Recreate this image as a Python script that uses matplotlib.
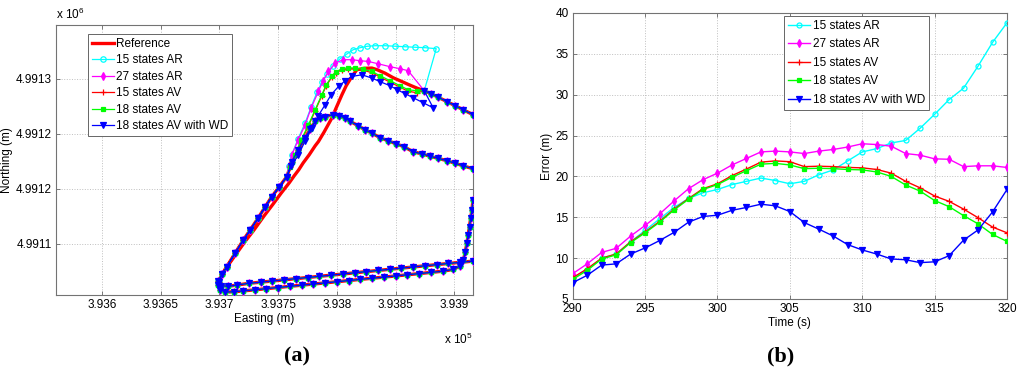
import numpy as np
import matplotlib
matplotlib.use('Agg')
import matplotlib.pyplot as plt

plt.rcParams['font.family'] = ['Liberation Sans', 'DejaVu Sans']
plt.rcParams['mathtext.fontset'] = 'custom'
plt.rcParams['mathtext.rm'] = 'Liberation Sans'

# ---------------- (b) error data ----------------
time_s = list(range(290, 321))
err_15AR = [7.6, 8.6, 10.0, 10.5, 12.0, 13.4, 14.8, 16.2, 17.3, 18.0, 18.4, 19.0, 19.4, 19.8, 19.5, 19.1,
            19.4, 20.2, 20.8, 21.9, 23.0, 23.4, 24.1, 24.4, 25.9, 27.6, 29.4, 30.8, 33.5, 36.4, 38.8]
err_27AR = [8.1, 9.3, 10.7, 11.2, 12.7, 14.0, 15.4, 17.0, 18.5, 19.6, 20.4, 21.4, 22.2, 23.0, 23.1, 23.0,
            22.8, 23.1, 23.3, 23.6, 24.0, 23.9, 23.7, 22.8, 22.6, 22.15, 22.1, 21.2, 21.3, 21.3, 21.1]
err_15AV = [7.6, 8.7, 10.0, 10.5, 12.0, 13.2, 14.5, 16.0, 17.3, 18.5, 19.1, 20.1, 20.9, 21.75, 21.9, 21.8,
            21.2, 21.25, 21.2, 21.1, 21.05, 20.85, 20.4, 19.4, 18.6, 17.6, 16.95, 16.0, 14.95, 13.8, 13.1]
err_18AV = [7.4, 8.5, 9.9, 10.4, 11.9, 13.1, 14.4, 15.9, 17.2, 18.4, 19.0, 19.9, 20.7, 21.5, 21.6, 21.4,
            20.95, 21.0, 20.95, 20.85, 20.8, 20.55, 20.0, 18.95, 18.2, 17.05, 16.3, 15.2, 14.2, 12.9, 12.05]
err_18AVWD = [7.0, 7.9, 9.15, 9.3, 10.5, 11.25, 12.15, 13.15, 14.4, 15.1, 15.25, 15.85, 16.2, 16.6, 16.4, 15.7,
              14.35, 13.55, 12.7, 11.65, 11.0, 10.5, 9.9, 9.8, 9.45, 9.55, 10.3, 12.2, 13.45, 15.65, 18.4]

# ---------------- (a) trajectory data (Easting, Northing in m) ----------------
# lap A: upper bottom line (from right edge to bottom-left corner)
lapA_bottom_e = [393916, 393905, 393895, 393885, 393875, 393865, 393855, 393845, 393835, 393825, 393815,
                 393805, 393795, 393785, 393775, 393765, 393755, 393745, 393735, 393725, 393715, 393707,
                 393701.5, 393699.2]
lapA_bottom_n = [4991134.4, 4991133.3, 4991132.3, 4991131.2, 4991130.1, 4991129.1, 4991128.0, 4991127.0,
                 4991125.9, 4991124.8, 4991123.8, 4991122.7, 4991121.6, 4991120.6, 4991119.5, 4991118.4,
                 4991117.4, 4991116.3, 4991115.3, 4991114.2, 4991112.6, 4991111.4, 4991112.2, 4991115.7]
# shared diagonal
diag_e = [393702.3, 393706.3, 393713.4, 393720.4, 393726.2, 393733.0, 393738.9, 393744.6, 393750.9, 393757.4]
diag_n = [4991122.7, 4991129.4, 4991141.8, 4991153.6, 4991162.7, 4991173.6, 4991183.6, 4991193.0,
          4991201.8, 4991211.2]
# lap A: lower peak and descent to right edge
lapA_top_e = [393761.7, 393767.0, 393773.0, 393777.3, 393781.5, 393785.8, 393790.0, 393797.1, 393802.0,
              393807.1, 393811.3, 393818.1, 393824.1, 393829.8, 393836.9, 393843.7, 393850.5, 393857.3,
              393865.0, 393872.7, 393879.5, 393886.3, 393894.0, 393900.8, 393907.6, 393916.1]
lapA_top_n = [4991224.8, 4991235.5, 4991246.4, 4991254.5, 4991261.2, 4991264.1, 4991265.7, 4991267.3,
              4991266.4, 4991264.3, 4991261.4, 4991257.3, 4991253.6, 4991250.6, 4991246.4, 4991243.6,
              4991240.9, 4991238.2, 4991233.6, 4991231.8, 4991229.5, 4991227.7, 4991225.5, 4991223.2,
              4991220.9, 4991218.2]
# lap B: right vertical and lower bottom line
lapB_bottom_e = [393915.9, 393915.0, 393914.0, 393913.0, 393911.8, 393910.7, 393909.3, 393907.8, 393905.0,
                 393899.0, 393890, 393880, 393870, 393860, 393850, 393840, 393830, 393820, 393810, 393800,
                 393790, 393780, 393770, 393760, 393750, 393740, 393730, 393720, 393712, 393705, 393700.5,
                 393698.6, 393699.1]
lapB_bottom_n = [4991190.0, 4991180.9, 4991173.6, 4991165.7, 4991158.2, 4991150.6, 4991142.7, 4991135.5,
                 4991130.0, 4991126.8, 4991125.2, 4991124.1, 4991123.0, 4991122.0, 4991120.9, 4991119.9,
                 4991118.8, 4991117.8, 4991116.7, 4991115.7, 4991114.6, 4991113.6, 4991112.5, 4991111.5,
                 4991110.4, 4991109.4, 4991108.3, 4991107.3, 4991106.5, 4991106.3, 4991108.6, 4991112.5,
                 4991116.5]
# lap B: common end after the junction
end_e = [393880.3, 393886.3, 393894.0, 393900.8, 393907.6, 393916.1]
end_n = [4991286.4, 4991283.2, 4991279.1, 4991275.5, 4991271.8, 4991267.3]

# lap B: outage segment of each solution
ref_e = [393706.3, 393722.5, 393728.8, 393738.0, 393745.8, 393752.5, 393759.4, 393763.6, 393767.5, 393771.3,
         393776.4, 393781.5, 393784.3, 393789.2, 393795.7, 393799.4, 393804.3, 393807.9, 393812.8, 393817.0,
         393823.3, 393829.8, 393834.3, 393841.1, 393848.0, 393855.6, 393862.4, 393868.4, 393874.4]
ref_n = [4991129.1, 4991153.2, 4991161.8, 4991175.5, 4991186.4, 4991196.1, 4991205.5, 4991211.8, 4991217.3,
         4991223.6, 4991230.9, 4991239.1, 4991243.0, 4991251.8, 4991264.3, 4991273.6, 4991285.5, 4991293.6,
         4991302.1, 4991308.2, 4991309.5, 4991309.7, 4991308.2, 4991305.0, 4991300.9, 4991297.3, 4991294.1,
         4991291.4, 4991289.1]
ar15_e = [393759.4, 393761.5, 393767.0, 393773.0, 393778.1, 393783.2, 393787.5, 393791.7, 393796.9, 393802.8,
          393808.8, 393813.9, 393819.8, 393825.8, 393832.6, 393841.1, 393849.7, 393858.2, 393866.7, 393875.2,
          393884.6, 393874.4]
ar15_n = [4991220.9, 4991230.9, 4991245.5, 4991260.0, 4991274.5, 4991288.2, 4991297.3, 4991304.5, 4991311.8,
          4991318.2, 4991322.7, 4991326.4, 4991328.2, 4991329.5, 4991330.0, 4991330.0, 4991329.5, 4991329.1,
          4991328.6, 4991328.2, 4991327.3, 4991289.1]
ar27_e = [393759.4, 393761.7, 393767.0, 393773.0, 393778.1, 393784.3, 393788.3, 393792.8, 393798.6, 393805.6,
          393812.8, 393819.8, 393826.7, 393835.2, 393845.4, 393853.9, 393860.7, 393874.4]
ar27_n = [4991220.9, 4991230.9, 4991244.5, 4991258.2, 4991273.6, 4991288.5, 4991298.2, 4991306.6, 4991314.3,
          4991317.3, 4991317.3, 4991316.4, 4991315.7, 4991313.6, 4991310.9, 4991309.1, 4991307.3, 4991289.1]
av15_e = [393760.2, 393765.0, 393770.0, 393776.0, 393781.5, 393787.2, 393790.9, 393795.7, 393799.4, 393804.3,
          393809.6, 393815.6, 393822.4, 393829.8, 393836.9, 393845.4, 393853.9, 393860.7, 393868.4, 393874.4]
av15_n = [4991220.0, 4991230.9, 4991244.5, 4991257.7, 4991270.9, 4991284.5, 4991293.6, 4991301.4, 4991305.5,
          4991308.2, 4991309.1, 4991309.1, 4991307.7, 4991305.5, 4991301.4, 4991296.8, 4991292.3, 4991288.6,
          4991287.3, 4991289.1]
av18_e = [393760.2, 393764.5, 393769.6, 393775.8, 393781.5, 393787.2, 393790.9, 393795.7, 393799.4, 393804.3,
          393809.6, 393815.6, 393822.4, 393829.8, 393836.9, 393845.4, 393853.9, 393860.7, 393868.4, 393874.4]
av18_n = [4991220.0, 4991230.9, 4991244.5, 4991258.2, 4991271.8, 4991285.5, 4991294.5, 4991302.1, 4991306.4,
          4991309.1, 4991310.0, 4991309.7, 4991308.6, 4991306.6, 4991302.7, 4991298.2, 4991293.6, 4991290.0,
          4991289.1, 4991289.1]
wd_e = [393761.1, 393767.3, 393773.0, 393778.7, 393784.1, 393790.0, 393795.1, 393801.4, 393807.1, 393812.8,
        393821.3, 393829.8, 393836.9, 393845.4, 393851.4, 393858.2, 393865.0, 393873.5, 393882.0, 393874.4]
wd_n = [4991220.9, 4991230.9, 4991243.6, 4991255.2, 4991266.4, 4991276.4, 4991285.5, 4991293.0, 4991298.2,
        4991302.1, 4991303.6, 4991300.6, 4991297.3, 4991293.6, 4991290.0, 4991286.4, 4991282.7, 4991278.2,
        4991273.6, 4991289.1]

labels = ['15 states AR', '27 states AR', '15 states AV', '18 states AV', '18 states AV with WD']
colors = ['#00ffff', '#ff00ff', '#ff0000', '#00ff00', '#0000ff']
markers = ['o', 'd', '+', 's', 'v']
msizes = [3.6, 3.8, 4.2, 3.2, 4.0]
mfc = ['none', '#ff00ff', '#ff0000', '#00ff00', '#0000ff']


def full_track(seg_e, seg_n):
    e = lapA_bottom_e + diag_e + lapA_top_e + [np.nan] + lapB_bottom_e + diag_e + seg_e + end_e
    n = lapA_bottom_n + diag_n + lapA_top_n + [np.nan] + lapB_bottom_n + diag_n + seg_n + end_n
    return e, n


fig = plt.figure(figsize=(10.24, 3.79), dpi=100)

# ---------------- left axes ----------------
ax1 = fig.add_axes([0.0547, 0.2216, 0.4072, 0.7124])
re = lapA_bottom_e + diag_e + lapA_top_e + [np.nan] + lapB_bottom_e + ref_e + end_e
rn = lapA_bottom_n + diag_n + lapA_top_n + [np.nan] + lapB_bottom_n + ref_n + end_n
ax1.plot(re, rn, color='#ff0000', lw=2.4, label='Reference', zorder=2)
segs = [(ar15_e, ar15_n), (ar27_e, ar27_n), (av15_e, av15_n), (av18_e, av18_n), (wd_e, wd_n)]
for i, (se, sn) in enumerate(segs):
    e, n = full_track(se, sn)
    ax1.plot(e, n, color=colors[i], lw=0.9, marker=markers[i], ms=msizes[i] + 0.3,
             mfc=mfc[i], mec=colors[i], mew=0.9, label=labels[i], zorder=3 + i)

ax1.set_xlim(393560.8, 393915.9)
ax1.set_ylim(4991103.6, 4991348.8)
xt = [393600, 393650, 393700, 393750, 393800, 393850, 393900]
ax1.set_xticks(xt)
ax1.set_xticklabels(['3.936', '3.9365', '3.937', '3.9375', '3.938', '3.9385', '3.939'])
yt = [4991150, 4991200, 4991250, 4991300]
ax1.set_yticks(yt)
ax1.set_yticklabels(['4.9911', '4.9912', '4.9912', '4.9913'])
ax1.set_xlabel('Easting (m)', fontsize=8.5, labelpad=1)
ax1.set_ylabel('Northing (m)', fontsize=8.5)
ax1.yaxis.set_label_coords(-0.103, 0.5)
ax1.text(1.0, -0.135, r'x 10$^{5}$', transform=ax1.transAxes, ha='right', va='top', fontsize=8.5)
ax1.text(0.0, 1.012, r'x 10$^{6}$', transform=ax1.transAxes, ha='left', va='bottom', fontsize=8.5)
leg1 = ax1.legend(loc='upper left', bbox_to_anchor=(0.077, 0.965), fontsize=8.5, frameon=True,
                  fancybox=False, edgecolor='0.4', framealpha=1, handlelength=1.9, handletextpad=0.2,
                  labelspacing=0.38, borderpad=0.3, borderaxespad=0)
leg1.get_frame().set_linewidth(0.7)

# ---------------- right axes ----------------
ax2 = fig.add_axes([0.5593, 0.2111, 0.4241, 0.7546])
series = [err_15AR, err_27AR, err_15AV, err_18AV, err_18AVWD]
for i, s in enumerate(series):
    ax2.plot(time_s, s, color=colors[i], lw=1.0, marker=markers[i], ms=msizes[i],
             mfc=mfc[i], mec=colors[i], mew=0.9, label=labels[i], zorder=3 + i)
ax2.set_xlim(290, 320)
ax2.set_ylim(5, 40)
ax2.set_xticks([290, 295, 300, 305, 310, 315, 320])
ax2.set_yticks([5, 10, 15, 20, 25, 30, 35, 40])
ax2.set_xlabel('Time (s)', fontsize=8.5, labelpad=1)
ax2.set_ylabel('Error (m)', fontsize=8.5, labelpad=2)
leg2 = ax2.legend(loc='upper left', bbox_to_anchor=(0.486, 0.99), fontsize=8.5, frameon=True,
                  fancybox=False, edgecolor='0.4', framealpha=1, handlelength=1.9, handletextpad=0.2,
                  labelspacing=0.55, borderpad=0.35, borderaxespad=0)
leg2.get_frame().set_linewidth(0.7)

for ax in (ax1, ax2):
    ax.grid(True, linestyle=':', color='0.75', linewidth=0.7)
    ax.set_axisbelow(True)
    ax.tick_params(direction='in', top=True, right=True, labelsize=8.5, length=3, width=0.6,
                   color='0.4', pad=3)
    for sp in ax.spines.values():
        sp.set_color('0.45')
        sp.set_linewidth(0.8)

fig.text(297 / 1024, 1 - 356 / 379, '(a)', ha='center', va='center', fontsize=16, fontweight='bold',
         family='Liberation Serif')
fig.text(781 / 1024, 1 - 356 / 379, '(b)', ha='center', va='center', fontsize=16, fontweight='bold',
         family='Liberation Serif')

fig.savefig('out.png', dpi=100)
